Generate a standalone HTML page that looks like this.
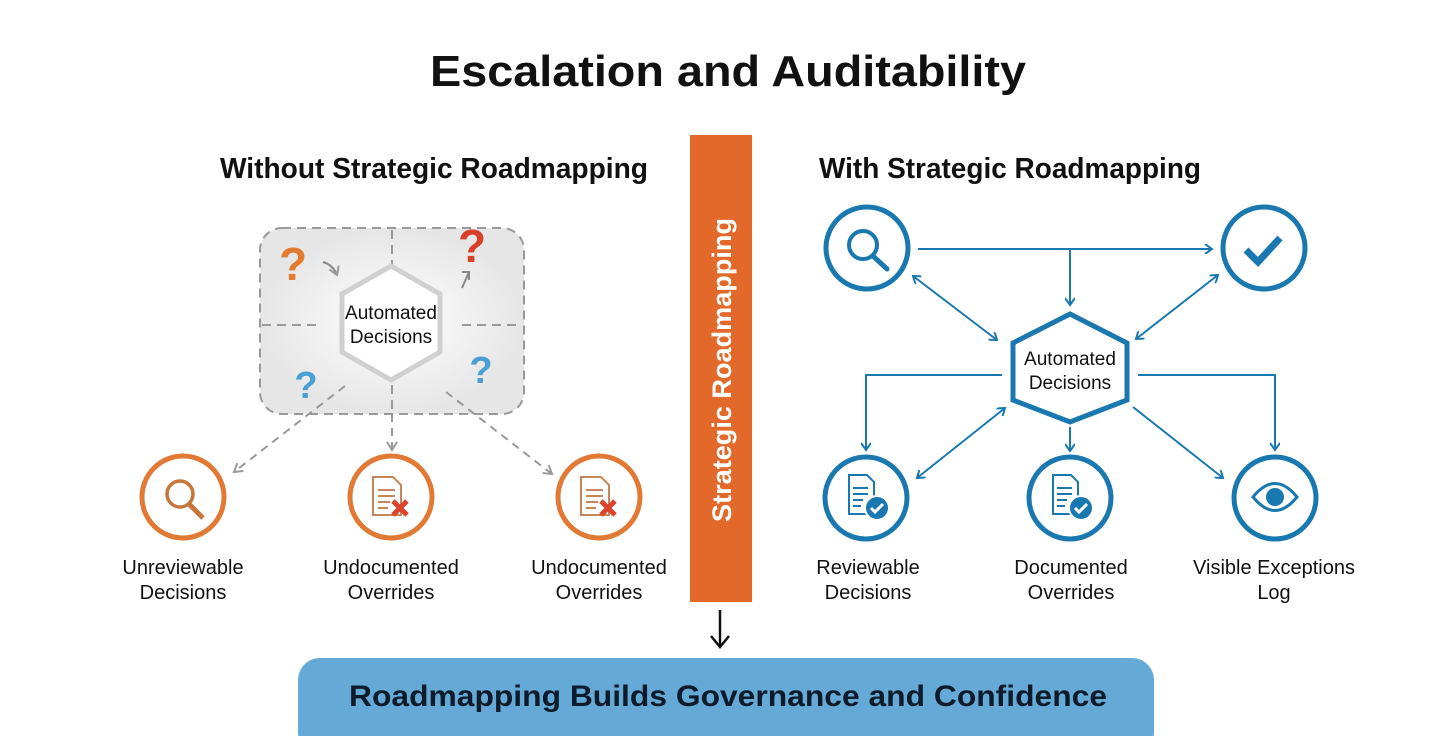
<!DOCTYPE html>
<html><head><meta charset="utf-8"><style>
html,body{margin:0;padding:0;background:#fff;}
svg{display:block;font-family:"Liberation Sans",sans-serif;}
</style></head><body>
<svg width="1456" height="736" viewBox="0 0 1456 736" xmlns="http://www.w3.org/2000/svg">
<defs>
<marker id="ab" markerWidth="10" markerHeight="10" refX="8" refY="5" orient="auto-start-reverse" markerUnits="userSpaceOnUse"><path d="M1,0 L8,5 L1,10" fill="none" stroke="#1a78b0" stroke-width="2"/></marker>
<marker id="ag" markerWidth="12" markerHeight="12" refX="9" refY="6" orient="auto" markerUnits="userSpaceOnUse"><path d="M1,1 L9,6 L1,11" fill="none" stroke="#999" stroke-width="2"/></marker>
<radialGradient id="glow"><stop offset="0" stop-color="#fff"/><stop offset="1" stop-color="#e6e6e6"/></radialGradient>
</defs>
<text x="728" y="86" text-anchor="middle" font-size="44" font-weight="bold" fill="#111" textLength="596" lengthAdjust="spacingAndGlyphs">Escalation and Auditability</text>
<text x="434" y="178" text-anchor="middle" font-size="29" font-weight="bold" fill="#111" textLength="428" lengthAdjust="spacingAndGlyphs">Without Strategic Roadmapping</text>
<text x="1010" y="178" text-anchor="middle" font-size="29" font-weight="bold" fill="#111" textLength="382" lengthAdjust="spacingAndGlyphs">With Strategic Roadmapping</text>

<!-- Left panel -->
<rect x="260" y="228" width="264" height="186" rx="22" fill="url(#glow)" stroke="#999" stroke-width="2" stroke-dasharray="9,6"/>
<g stroke="#999" stroke-width="2" stroke-dasharray="9,6">
<line x1="392" y1="230" x2="392" y2="265"/><line x1="392" y1="385" x2="392" y2="412"/>
<line x1="262" y1="325" x2="322" y2="325"/><line x1="462" y1="325" x2="522" y2="325"/>
</g>
<polygon points="391,266 440,294 440,352 391,380 342,352 342,294" fill="#fff" stroke="#d0d0d0" stroke-width="5"/>
<text x="391" y="319" text-anchor="middle" font-size="19" fill="#111">Automated</text>
<text x="391" y="343" text-anchor="middle" font-size="19" fill="#111">Decisions</text>
<text x="293" y="280" text-anchor="middle" font-size="46" font-weight="bold" fill="#e27b30">?</text>
<text x="472" y="262" text-anchor="middle" font-size="46" font-weight="bold" fill="#d9402a">?</text>
<text x="306" y="398" text-anchor="middle" font-size="38" font-weight="bold" fill="#4aa0d5">?</text>
<text x="481" y="383" text-anchor="middle" font-size="38" font-weight="bold" fill="#4aa0d5">?</text>
<path d="M323,262 Q333,265 337,275" fill="none" stroke="#888" stroke-width="2" marker-end="url(#ag)"/>
<path d="M462,288 L469,272 M462,272 L469,272 L469,280" fill="none" stroke="#888" stroke-width="2"/>
<g stroke="#999" stroke-width="2" stroke-dasharray="8,6" fill="none">
<line x1="345" y1="386" x2="234" y2="472" marker-end="url(#ag)"/>
<line x1="392" y1="414" x2="392" y2="450" marker-end="url(#ag)"/>
<line x1="446" y1="392" x2="552" y2="474" marker-end="url(#ag)"/>
</g>
<g fill="#fff" stroke="#e07a35" stroke-width="5">
<circle cx="183" cy="497" r="41"/><circle cx="391" cy="497" r="41"/><circle cx="599" cy="497" r="41"/>
</g>
<g stroke="#c8753a" stroke-width="3.5" fill="none">
<circle cx="180" cy="494" r="13"/><line x1="189" y1="504" x2="203" y2="518" stroke-width="5"/>
</g>
<g id="docx">
<path d="M373,477 h20 l8,8 v30 h-28 z" fill="#fff" stroke="#c8855a" stroke-width="2"/>
<g stroke="#c8855a" stroke-width="2"><line x1="378" y1="490" x2="395" y2="490"/><line x1="378" y1="496" x2="395" y2="496"/><line x1="378" y1="502" x2="390" y2="502"/><line x1="378" y1="508" x2="388" y2="508"/></g>
<path d="M393,501 l14,14 M407,501 l-14,14" stroke="#d9442a" stroke-width="5"/>
</g>
<use href="#docx" transform="translate(208,0)"/>
<g font-size="20" fill="#111" text-anchor="middle">
<text x="183" y="574">Unreviewable</text><text x="183" y="599">Decisions</text>
<text x="391" y="574">Undocumented</text><text x="391" y="599">Overrides</text>
<text x="599" y="574">Undocumented</text><text x="599" y="599">Overrides</text>
</g>

<!-- Center bar -->
<rect x="690" y="135" width="62" height="467" fill="#e2692a"/>
<text transform="translate(731,370) rotate(-90)" text-anchor="middle" font-size="27" font-weight="bold" fill="#fff" textLength="304" lengthAdjust="spacingAndGlyphs">Strategic Roadmapping</text>
<line x1="720" y1="610" x2="720" y2="646" stroke="#111" stroke-width="2.5"/>
<path d="M711,636 L720,647 L729,636" fill="none" stroke="#111" stroke-width="2.5"/>

<!-- Right panel -->
<g stroke="#1a78b0" stroke-width="2" fill="none">
<line x1="918" y1="249" x2="1212" y2="249" marker-end="url(#ab)"/>
<line x1="1070" y1="249" x2="1070" y2="305" marker-end="url(#ab)"/>
<line x1="913" y1="276" x2="997" y2="340" marker-start="url(#ab)" marker-end="url(#ab)"/>
<line x1="1218" y1="275" x2="1136" y2="339" marker-start="url(#ab)" marker-end="url(#ab)"/>
<polyline points="1002,375 866,375 866,450" marker-end="url(#ab)"/>
<polyline points="1138,375 1275,375 1275,450" marker-end="url(#ab)"/>
<line x1="917" y1="478" x2="1005" y2="408" marker-start="url(#ab)" marker-end="url(#ab)"/>
<line x1="1070" y1="427" x2="1070" y2="451" marker-end="url(#ab)"/>
<line x1="1133" y1="407" x2="1223" y2="478" marker-end="url(#ab)"/>
</g>
<polygon points="1070,314 1127,343 1127,400 1070,422 1013,400 1013,343" fill="#fff" stroke="#1a78b0" stroke-width="5"/>
<text x="1070" y="365" text-anchor="middle" font-size="19" fill="#111">Automated</text>
<text x="1070" y="389" text-anchor="middle" font-size="19" fill="#111">Decisions</text>
<g fill="#fff" stroke="#1a78b0" stroke-width="5">
<circle cx="867" cy="248" r="41"/><circle cx="1264" cy="248" r="41"/>
<circle cx="866" cy="498" r="41"/><circle cx="1070" cy="498" r="41"/><circle cx="1275" cy="498" r="41"/>
</g>
<g stroke="#1a78b0" fill="none">
<circle cx="863" cy="245" r="14" stroke-width="4"/><line x1="873" y1="256" x2="887" y2="269" stroke-width="5" stroke-linecap="round"/>
<path d="M1246,250 L1258,262 L1280,238" stroke-width="7"/>
<path d="M1253,497 Q1275,470 1297,497 Q1275,524 1253,497 z" stroke-width="3"/>
<circle cx="1275" cy="497" r="9" fill="#1a78b0" stroke="none"/>
</g>
<g id="docc">
<path d="M849,475 h18 l7,7 v32 h-25 z" fill="#fff" stroke="#1a78b0" stroke-width="2"/>
<g stroke="#1a78b0" stroke-width="2"><line x1="853" y1="488" x2="868" y2="488"/><line x1="853" y1="494" x2="868" y2="494"/><line x1="853" y1="500" x2="863" y2="500"/><line x1="853" y1="506" x2="861" y2="506"/></g>
<circle cx="877" cy="508" r="12" fill="#1a78b0" stroke="#fff" stroke-width="2"/>
<path d="M871,508 l4,4 l8,-8" fill="none" stroke="#fff" stroke-width="3"/>
</g>
<use href="#docc" transform="translate(204,0)"/>
<g font-size="20" fill="#111" text-anchor="middle">
<text x="868" y="574">Reviewable</text><text x="868" y="599">Decisions</text>
<text x="1071" y="574">Documented</text><text x="1071" y="599">Overrides</text>
<text x="1274" y="574">Visible Exceptions</text><text x="1274" y="599">Log</text>
</g>

<!-- Bottom banner -->
<rect x="298" y="658" width="856" height="96" rx="22" fill="#65aad6"/>
<text x="728" y="706" text-anchor="middle" font-size="30" font-weight="bold" fill="#0d1b2a" textLength="758" lengthAdjust="spacingAndGlyphs">Roadmapping Builds Governance and Confidence</text>
</svg>
</body></html>
